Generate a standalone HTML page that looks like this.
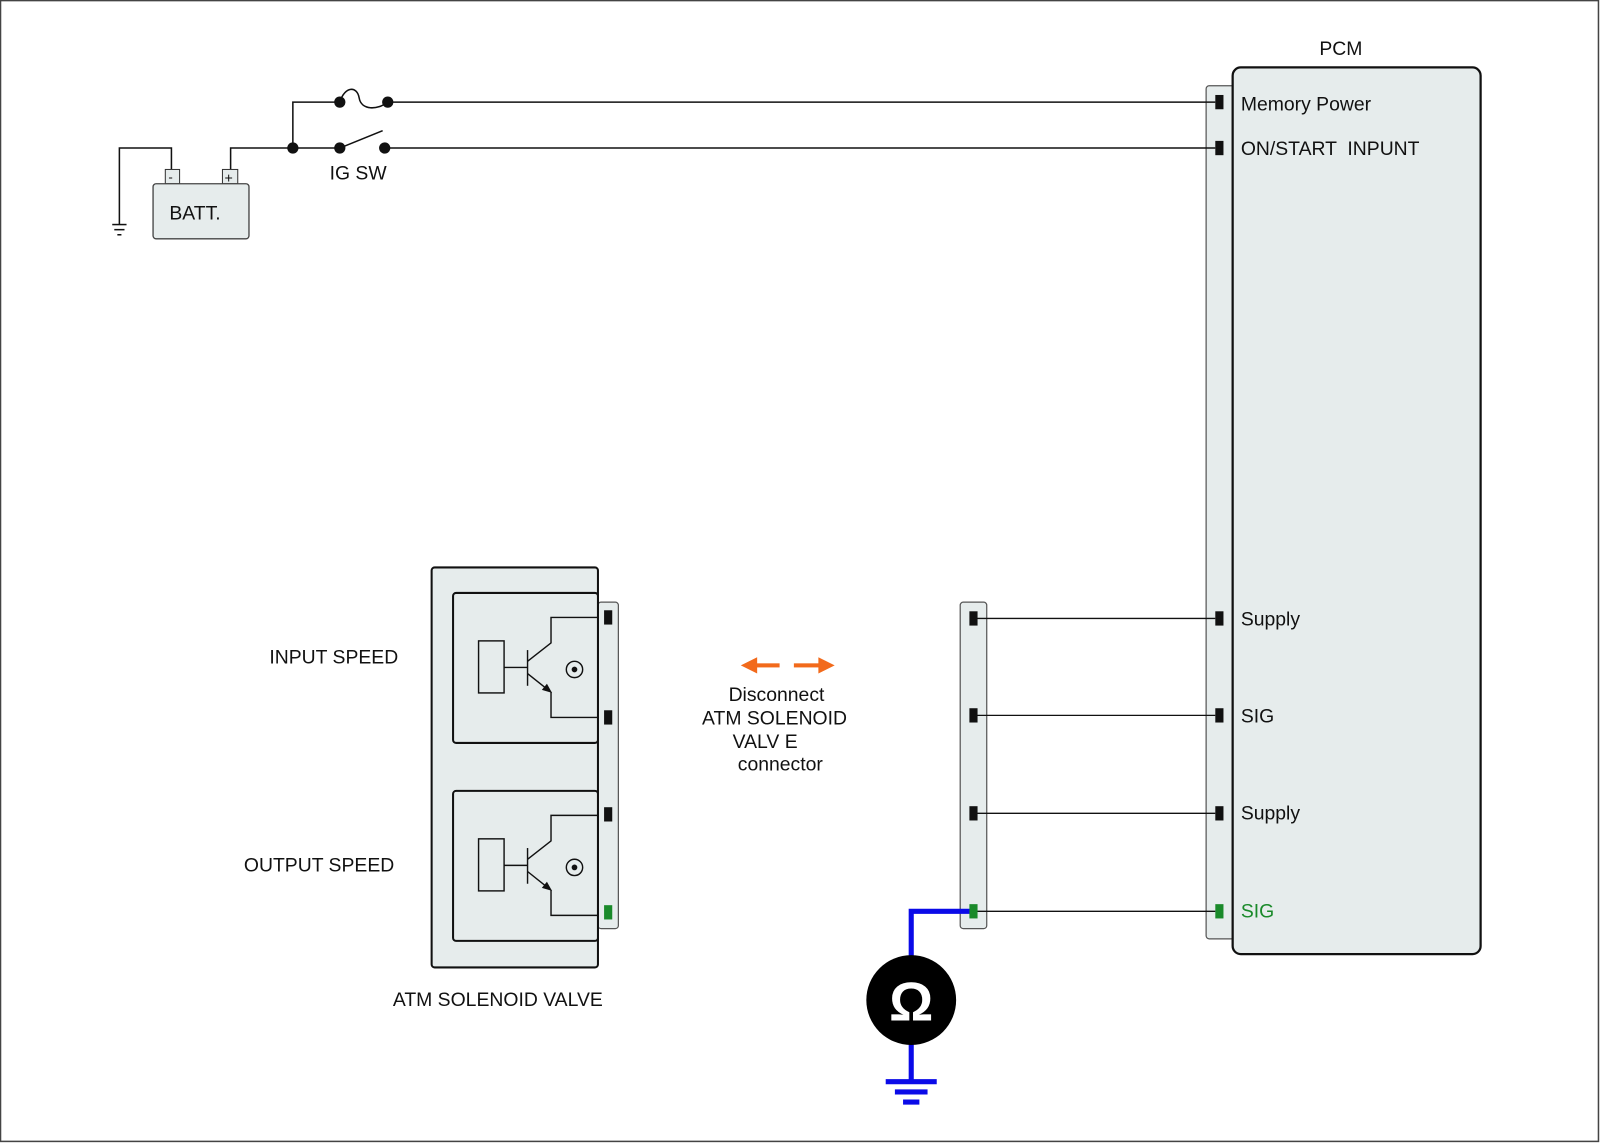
<!DOCTYPE html>
<html><head><meta charset="utf-8"><style>
html,body{margin:0;padding:0;background:#fff;}
svg{display:block;}
text{font-family:"Liberation Sans",sans-serif;font-size:19px;fill:#111;}
</style></head><body>
<svg width="1600" height="1143" viewBox="0 0 1568 1120" xmlns="http://www.w3.org/2000/svg">
<rect x="0.5" y="0.5" width="1566" height="1118" fill="#fff" stroke="#444" stroke-width="1.5"/>
<!-- PCM -->
<text x="1293" y="54">PCM</text>
<rect x="1182" y="84" width="34" height="836" rx="3" fill="#e6ecec" stroke="#555" stroke-width="1.2"/>
<rect x="1208" y="66" width="243" height="869" rx="8" fill="#e6ecec" stroke="#111" stroke-width="2.2"/>
<g fill="#111">
<rect x="1191" y="93" width="8" height="14"/><rect x="1191" y="138" width="8" height="14"/>
<rect x="1191" y="599" width="8" height="14"/><rect x="1191" y="694" width="8" height="14"/>
<rect x="1191" y="790" width="8" height="14"/></g>
<rect x="1191" y="886" width="8" height="14" fill="#1a8a2a"/>
<text x="1216" y="108">Memory Power</text>
<text x="1216" y="152">ON/START &#160;INPUNT</text>
<text x="1216" y="613">Supply</text>
<text x="1216" y="708">SIG</text>
<text x="1216" y="803">Supply</text>
<text x="1216" y="899" style="fill:#1a8a2a">SIG</text>
<!-- top wires -->
<g stroke="#111" stroke-width="1.5" fill="none">
<line x1="380" y1="100" x2="1191" y2="100"/>
<line x1="377" y1="145" x2="1191" y2="145"/>
<polyline points="226,167 226,145 333,145"/>
<polyline points="287,145 287,100 333,100"/>
<path d="M333,100 C338,84 350,84 352,96 C354,108 370,108 380,100"/>
<line x1="333" y1="145" x2="375" y2="128"/>
<polyline points="168,167 168,145 117,145 117,220"/>
<line x1="110" y1="220" x2="124" y2="220"/><line x1="112" y1="225" x2="122" y2="225"/><line x1="115" y1="230" x2="119" y2="230"/>
</g>
<g fill="#111"><circle cx="287" cy="145" r="5.5"/><circle cx="333" cy="145" r="5.5"/><circle cx="377" cy="145" r="5.5"/><circle cx="333" cy="100" r="5.5"/><circle cx="380" cy="100" r="5.5"/></g>
<rect x="162" y="166" width="14" height="14" fill="#e6ecec" stroke="#333"/>
<rect x="218" y="166" width="15" height="14" fill="#e6ecec" stroke="#333"/>
<text x="165" y="178" style="font-size:13px">-</text><text x="220" y="179" style="font-size:14px">+</text>
<rect x="150" y="180" width="94" height="54" rx="3" fill="#e6ecec" stroke="#444" stroke-width="1.3"/>
<text x="166" y="215">BATT.</text>
<text x="323" y="176">IG SW</text>
<!-- solenoid -->
<rect x="586" y="590" width="20" height="320" rx="3" fill="#e6ecec" stroke="#555" stroke-width="1.2"/>
<rect x="423" y="556" width="163" height="392" rx="3" fill="#e6ecec" stroke="#111" stroke-width="2"/>
<g id="s1">
<rect x="444" y="581" width="142" height="147" rx="3" fill="#e6ecec" stroke="#111" stroke-width="2"/>
<g stroke="#111" stroke-width="1.4" fill="none">
<rect x="469" y="628" width="25" height="51"/>
<line x1="494" y1="654" x2="517" y2="654"/>
<line x1="517" y1="637" x2="517" y2="672"/>
<polyline points="517,648 540,630 540,605 586,605"/>
<polyline points="517,660 537,676"/>
<polyline points="540,678 540,703 586,703"/>
<circle cx="563" cy="656" r="8"/>
</g>
<polygon points="541,679 531,676 536,670" fill="#111"/>
<circle cx="563" cy="656" r="2.8" fill="#111"/>
</g>
<use href="#s1" transform="translate(0,194)"/>
<g fill="#111"><rect x="592" y="598" width="8" height="14"/><rect x="592" y="696" width="8" height="14"/><rect x="592" y="791" width="8" height="14"/></g>
<rect x="592" y="887" width="8" height="14" fill="#1a8a2a"/>
<text x="264" y="650">INPUT SPEED</text>
<text x="239" y="854">OUTPUT SPEED</text>
<text x="385" y="986">ATM SOLENOID VALVE</text>
<!-- disconnect -->
<g fill="#f26a1b"><rect x="738" y="650" width="26" height="4"/><polygon points="726,652 742,644 742,660"/>
<rect x="778" y="650" width="26" height="4"/><polygon points="818,652 802,644 802,660"/></g>
<text x="714" y="687">Disconnect</text>
<text x="688" y="710">ATM SOLENOID</text>
<text x="718" y="733">VALV  E</text>
<text x="723" y="755">connector</text>
<!-- middle connector -->
<rect x="941" y="590" width="26" height="320" rx="3" fill="#e6ecec" stroke="#555" stroke-width="1.2"/>
<g stroke="#111" stroke-width="1.3"><line x1="954" y1="606" x2="1191" y2="606"/><line x1="954" y1="701" x2="1191" y2="701"/><line x1="954" y1="797" x2="1191" y2="797"/><line x1="954" y1="893" x2="1191" y2="893"/></g>
<g fill="#111"><rect x="950" y="599" width="8" height="14"/><rect x="950" y="694" width="8" height="14"/><rect x="950" y="790" width="8" height="14"/></g>
<g stroke="#0a0ae8" stroke-width="5" fill="none"><polyline points="952,893 893,893 893,940"/><line x1="893" y1="1020" x2="893" y2="1060"/>
<line x1="868" y1="1060" x2="918" y2="1060"/><line x1="877" y1="1070" x2="909" y2="1070"/><line x1="885" y1="1080" x2="901" y2="1080"/></g>
<rect x="950" y="886" width="8" height="14" fill="#1a8a2a"/>
<circle cx="893" cy="980" r="44" fill="#000"/>
<text x="893" y="1000" text-anchor="middle" style="font-size:54px;font-weight:bold;fill:#fff">Ω</text>
</svg>
</body></html>
